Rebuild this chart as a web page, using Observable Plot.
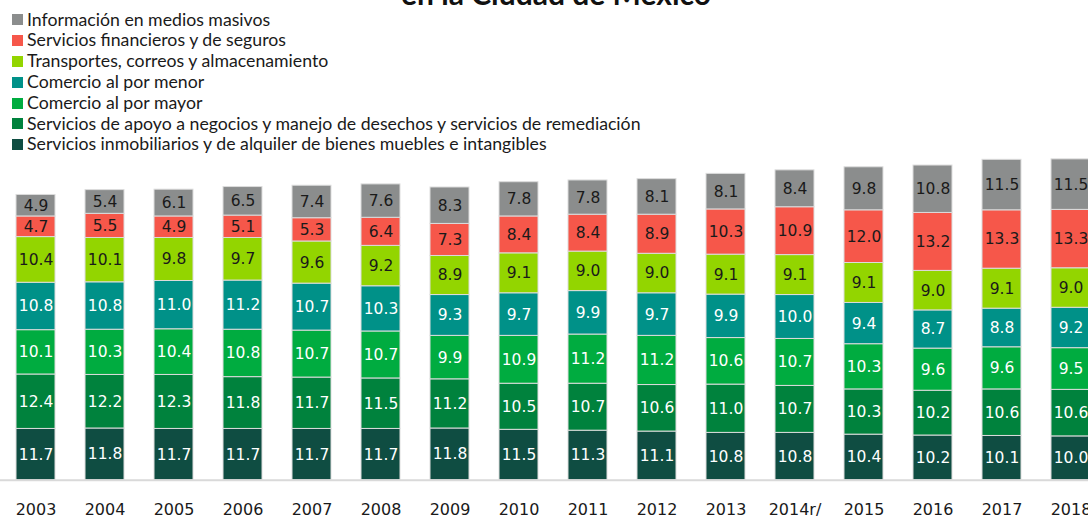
<!DOCTYPE html>
<html><head><meta charset="utf-8">
<script src="https://cdn.jsdelivr.net/npm/d3@7"></script>
<script src="https://cdn.jsdelivr.net/npm/@observablehq/plot@0.6"></script>
<style>
body{margin:0;background:#fff;width:1088px;height:519px;overflow:hidden;position:relative;font-family:Lato,sans-serif}
#title{position:absolute;left:0;width:1112px;text-align:center;top:-24px;font-weight:bold;font-size:30px;line-height:34px;color:#111;font-family:Lato,sans-serif;white-space:nowrap}
#legend{padding:9.6px 0 0 12px;height:155.2px;box-sizing:border-box}
.item{height:20.8px;line-height:20.8px;display:flex;align-items:center;font-size:17.7px;color:#1a1a1a;white-space:nowrap}
.sw{width:11px;height:11px;margin-right:4px;flex:none}
#chart{width:1088px;height:363.8px;overflow:hidden}
#chart svg{display:block;margin-left:-14px;max-width:none !important;width:1134px;height:363.8px}
</style></head>
<body>
<div id="title">en la Ciudad de México</div>
<div id="legend"></div>
<div id="chart"></div>
<script>
const years = ["2003","2004","2005","2006","2007","2008","2009","2010","2011","2012","2013","2014r/","2015","2016","2017","2018"];
const inmobiliarios = [11.7,11.8,11.7,11.7,11.7,11.7,11.8,11.5,11.3,11.1,10.8,10.8,10.4,10.2,10.1,10.0];
const apoyo = [12.4,12.2,12.3,11.8,11.7,11.5,11.2,10.5,10.7,10.6,11.0,10.7,10.3,10.2,10.6,10.6];
const mayor = [10.1,10.3,10.4,10.8,10.7,10.7,9.9,10.9,11.2,11.2,10.6,10.7,10.3,9.6,9.6,9.5];
const menor = [10.8,10.8,11.0,11.2,10.7,10.3,9.3,9.7,9.9,9.7,9.9,10.0,9.4,8.7,8.8,9.2];
const transportes = [10.4,10.1,9.8,9.7,9.6,9.2,8.9,9.1,9.0,9.0,9.1,9.1,9.1,9.0,9.1,9.0];
const financieros = [4.7,5.5,4.9,5.1,5.3,6.4,7.3,8.4,8.4,8.9,10.3,10.9,12.0,13.2,13.3,13.3];
const informacion = [4.9,5.4,6.1,6.5,7.4,7.6,8.3,7.8,7.8,8.1,8.1,8.4,9.8,10.8,11.5,11.5];

// bottom to top
const seriesNames = [
  "Servicios inmobiliarios y de alquiler de bienes muebles e intangibles",
  "Servicios de apoyo a negocios y manejo de desechos y servicios de remediación",
  "Comercio al por mayor",
  "Comercio al por menor",
  "Transportes, correos y almacenamiento",
  "Servicios financieros y de seguros",
  "Información en medios masivos"
];
const seriesValues = [inmobiliarios, apoyo, mayor, menor, transportes, financieros, informacion];
const seriesColors = ["#0f4d42","#00823d","#00ac40","#009188","#93d500","#f6574a","#8b8d8d"];
const whiteLabel = new Set(seriesNames.slice(0,4));

const rows = years.flatMap((y,i) => seriesNames.map((s,j) => ({year:y, series:s, value:seriesValues[j][i]})));

// legend (top to bottom)
const legend = document.getElementById("legend");
for (let j = seriesNames.length - 1; j >= 0; j--) {
  const it = document.createElement("div"); it.className = "item";
  const sw = document.createElement("span"); sw.className = "sw"; sw.style.background = seriesColors[j];
  const tx = document.createElement("span"); tx.textContent = seriesNames[j];
  it.appendChild(sw); it.appendChild(tx); legend.appendChild(it);
}

const H = 363.8, base = 324.8, k = 4.39;
const chart = Plot.plot({
  width: 1134, height: H,
  marginLeft: 0, marginRight: 0, marginTop: 0, marginBottom: H - base,
  x: {domain: years, padding: 0.435, round: false, label: null, tickSize: 0, tickPadding: 23},
  y: {domain: [0, base / k], axis: null},
  color: {domain: seriesNames, range: seriesColors},
  style: {fontFamily: "DejaVu Sans", fontSize: "16px", color: "#1a1a1a", background: "#fff"},
  marks: [
    Plot.barY(rows, {x: "year", y: "value", fill: "series", order: seriesNames, stroke: "#dcdcdc", strokeWidth: 1}),
    Plot.text(rows, Plot.stackY({x: "year", y: "value", z: "series", order: seriesNames,
      text: d => whiteLabel.has(d.series) ? d.value.toFixed(1) : null, fill: "#fff", fontSize: 15.5, fontFamily: "DejaVu Sans"})),
    Plot.text(rows, Plot.stackY({x: "year", y: "value", z: "series", order: seriesNames,
      text: d => whiteLabel.has(d.series) ? null : d.value.toFixed(1), fill: "#1a1a1a", fontSize: 15.5, fontFamily: "DejaVu Sans"})),
    Plot.ruleY([0], {stroke: "#d9d9d9", strokeWidth: 2})
  ]
});
document.getElementById("chart").appendChild(chart);
</script>
</body></html>
